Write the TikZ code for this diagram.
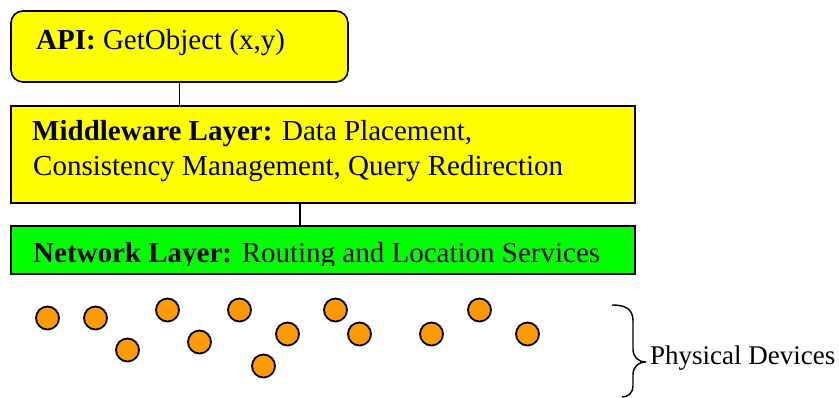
\documentclass[tikz,border=0pt]{standalone}
\usepackage{fontspec}
\setmainfont{Liberation Serif}
\begin{document}
\begin{tikzpicture}[x=1pt,y=-1pt,
  layerbox/.style={draw=black,line width=1.6pt,minimum width=624pt,inner sep=0pt,outer sep=0pt},
  txt/.style={anchor=base west,inner sep=0pt,font=\fontsize{29}{35}\selectfont},
  dev/.style={circle,draw=black,line width=1.8pt,fill=devorange,minimum size=23pt,inner sep=0pt},
  link/.style={draw=black,line width=1.4pt}]
\definecolor{devorange}{RGB}{255,153,0}
\definecolor{laygreen}{RGB}{0,255,0}
\definecolor{layyellow}{RGB}{255,255,0}
\useasboundingbox (0,0) rectangle (839,398);
% boxes
\node[draw=black,line width=1.6pt,fill=layyellow,rounded corners=12pt,minimum width=337pt,minimum height=71pt,inner sep=0pt] (api) at (179.5,46.5) {};
\node[layerbox,fill=layyellow,minimum height=97pt] (mid) at (323,154.5) {};
\node[layerbox,fill=laygreen,minimum height=48pt] (net) at (323,250) {};
% connectors
\draw[link] (api.south) -- (api.south |- mid.north);
\draw[link] ([xshift=-23pt]mid.south) -- ([xshift=-23pt]net.north);
% texts
\node[txt] (apitxt) at (36,50) {\textbf{API:} GetObject (x,y)};
\node[txt] (midtxt1) at (32,141) {\textbf{Middleware Layer:} Data Placement,};
\node[txt] (midtxt2) at (33,176) {Consistency Management, Query Redirection};
\begin{scope}
\clip (11,226) rectangle (635,266);
\node[txt] (nettxt) at (33,263) {\textbf{Network Layer:} Routing and Location Services};
\end{scope}
% devices
\node[dev] (d1) at (47.5,318) {};
\node[dev] (d2) at (95.5,318) {};
\node[dev] (d3) at (127.5,350) {};
\node[dev] (d4) at (167.5,310) {};
\node[dev] (d5) at (199.5,342) {};
\node[dev] (d6) at (239.5,310) {};
\node[dev] (d7) at (287.5,334) {};
\node[dev] (d8) at (263.5,366) {};
\node[dev] (d9) at (335.5,310) {};
\node[dev] (d10) at (359.5,334) {};
\node[dev] (d11) at (431.5,334) {};
\node[dev] (d12) at (479.5,310) {};
\node[dev] (d13) at (527.5,334) {};
% brace
\draw[line width=1.4pt] (612,305) .. controls (627,305) and (633,310) .. (633,321) -- (633,349) .. controls (633,357) and (638,362) .. (646,362) .. controls (638,362) and (633,367) .. (633,375) -- (633,386) .. controls (633,393) and (628,397) .. (622,397);
\node[txt,font=\fontsize{27}{32}\selectfont] (phys) at (650,365) {Physical Devices};
\end{tikzpicture}
\end{document}
